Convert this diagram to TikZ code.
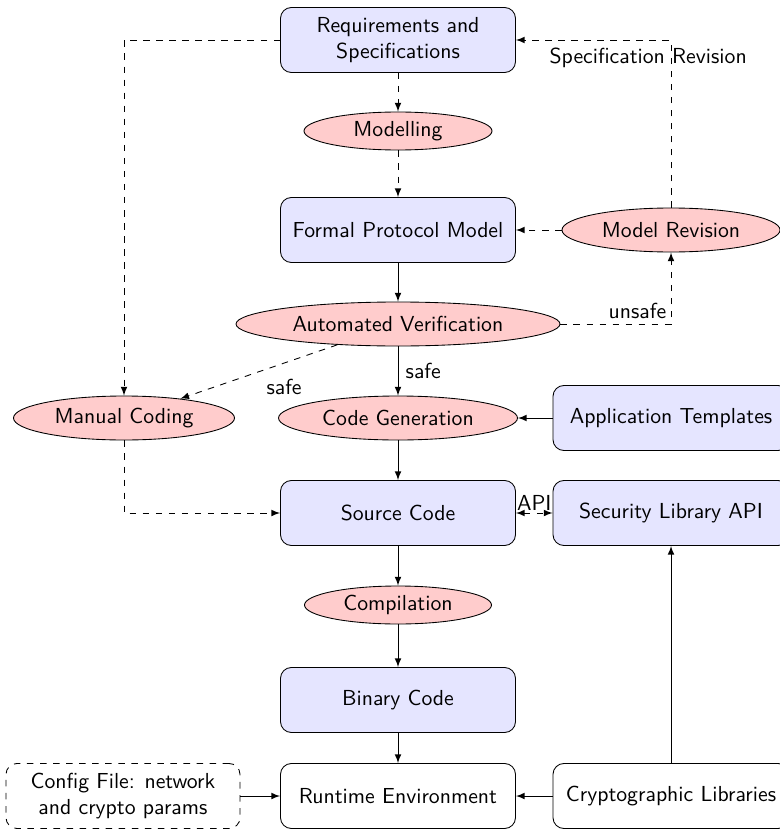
\documentclass[tikz,border=0pt]{standalone}
\usetikzlibrary{shapes.geometric,arrows}
\newcommand\pu{0.46pt}
\begin{document}
\begin{tikzpicture}[x=0.46pt,y=-0.46pt, font=\sffamily,
  procbox/.style={draw, rounded corners=5pt, fill=blue!10, minimum width={235*\pu}, minimum height={65*\pu}, align=center, inner sep=2pt},
  plainbox/.style={draw, rounded corners=5pt, minimum width={235*\pu}, minimum height={65*\pu}, align=center, inner sep=2pt},
  activity/.style={ellipse, draw, fill=red!20, inner sep=0pt, minimum height={44*\pu}},
  flow/.style={-latex},
  alt/.style={-latex, dashed}]
\useasboundingbox (0,0) rectangle (780,829);

% main column
\node[procbox] (req) at (398,40) {Requirements and\\Specifications};
\node[activity, minimum width={188*\pu}, minimum height={38*\pu}] (modelling) at (398,131) {Modelling};
\node[procbox] (formal) at (398,230) {Formal Protocol Model};
\node[activity, minimum width={324*\pu}] (verif) at (398,324) {Automated Verification};
\node[activity, minimum width={239*\pu}] (codegen) at (398,418) {Code Generation};
\node[procbox] (source) at (398,513) {Source Code};
\node[activity, minimum width={187*\pu}, minimum height={38*\pu}] (compile) at (398,605) {Compilation};
\node[procbox] (binary) at (398,700) {Binary Code};
\node[plainbox] (runtime) at (398,796) {Runtime Environment};

% side columns
\node[activity, minimum width={218*\pu}] (modrev) at (671,230) {Model Revision};
\node[activity, minimum width={221*\pu}] (manual) at (124,418) {Manual Coding};
\node[procbox, minimum width={236*\pu}] (templates) at (671,418) {Application Templates};
\node[procbox, minimum width={236*\pu}] (seclib) at (671,513) {Security Library API};
\node[plainbox, minimum width={236*\pu}] (crypto) at (671,796) {Cryptographic Libraries};
\node[plainbox, dashed, minimum width={234*\pu}] (config) at (123,796) {Config File: network\\and crypto params};

% connectors
\draw[alt] (req) -- (modelling);
\draw[alt] (modelling) -- (formal);
\draw[flow] (formal) -- (verif);
\draw[flow] (verif) -- node[right] {safe} (codegen);
\draw[alt] (verif) -- node[pos=0.5, below right] {safe} (manual);
\draw[alt] (verif.east) -| node[pos=0.5, above left, inner sep=2pt] {unsafe} (modrev.south);
\draw[alt] (modrev) -- (formal);
\draw[alt] (modrev.north) |- node[pos=0.5, below, xshift=-10.5pt] {Specification Revision} (req.east);
\draw[alt] (req.west) -| (manual.north);
\draw[alt] (manual.south) |- (source.west);
\draw[flow] (templates) -- (codegen);
\draw[flow] (codegen) -- (source);
\draw[latex-latex, dashed] (source) -- node[above, inner sep=1pt] {API} (seclib);
\draw[flow] (source) -- (compile);
\draw[flow] (compile) -- (binary);
\draw[flow] (binary) -- (runtime);
\draw[flow] (config) -- (runtime);
\draw[flow] (crypto) -- (runtime);
\draw[flow] (crypto) -- (seclib);
\end{tikzpicture}
\end{document}
